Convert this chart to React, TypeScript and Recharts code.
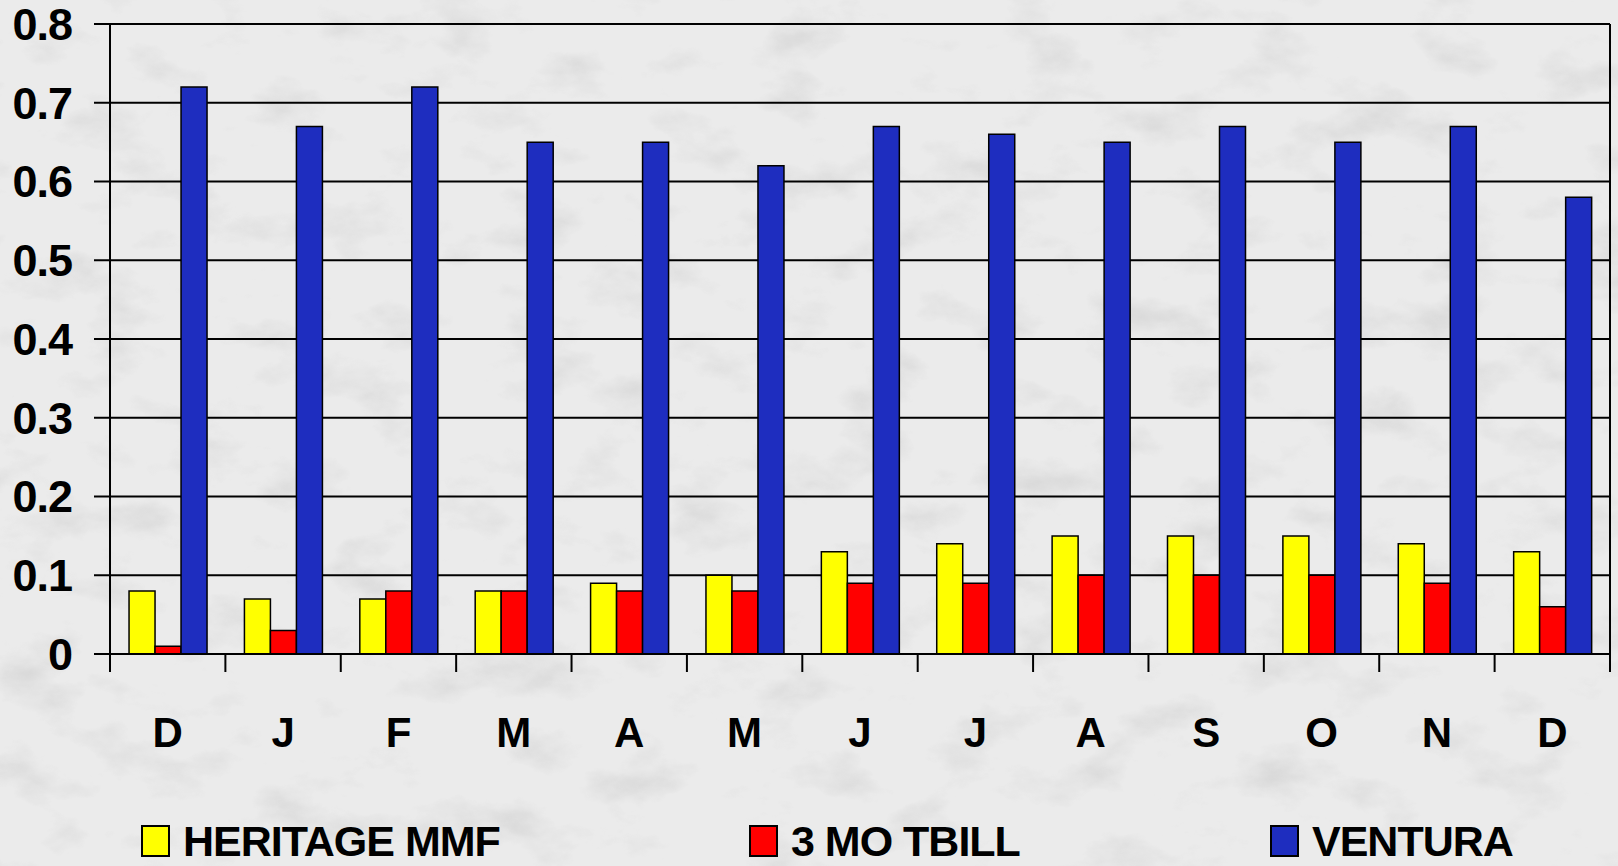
import React from 'react';
import {
  Bar,
  BarChart,
  CartesianGrid,
  Legend,
  XAxis,
  YAxis,
} from 'recharts';

const months = ['D', 'J', 'F', 'M', 'A', 'M', 'J', 'J', 'A', 'S', 'O', 'N', 'D'];
const heritage = [0.08, 0.07, 0.07, 0.08, 0.09, 0.1, 0.13, 0.14, 0.15, 0.15, 0.15, 0.14, 0.13];
const tbill = [0.01, 0.03, 0.08, 0.08, 0.08, 0.08, 0.09, 0.09, 0.1, 0.1, 0.1, 0.09, 0.06];
const ventura = [0.72, 0.67, 0.72, 0.65, 0.65, 0.62, 0.67, 0.66, 0.65, 0.67, 0.65, 0.67, 0.58];
const yTicks = [0, 0.1, 0.2, 0.3, 0.4, 0.5, 0.6, 0.7, 0.8];

const data = months.map((m, i) => ({
  month: m,
  heritage: heritage[i],
  tbill: tbill[i],
  ventura: ventura[i],
}));

const W = 1618;
const H = 866;
const FONT = '"Liberation Sans", Arial, sans-serif';
const BAND = 1500 / months.length;

const series = [
  { key: 'heritage', name: 'HERITAGE MMF', color: '#ffff00', left: 142 },
  { key: 'tbill', name: '3 MO TBILL', color: '#ff0000', left: 750 },
  { key: 'ventura', name: 'VENTURA', color: '#1e2dbf', left: 1271 },
];

const MonthTick = (props: any) => {
  const { x, y, payload, index } = props;
  return (
    <g>
      <line x1={x - BAND / 2} x2={x - BAND / 2} y1={y} y2={y + 18} stroke="#000" strokeWidth={2} />
      {index === months.length - 1 && (
        <line x1={x + BAND / 2} x2={x + BAND / 2} y1={y} y2={y + 18} stroke="#000" strokeWidth={2} />
      )}
      <text
        x={x}
        y={y + 93}
        textAnchor="middle"
        fontFamily={FONT}
        fontWeight="bold"
        fontSize={42}
        fill="#000"
      >
        {payload.value}
      </text>
    </g>
  );
};

// legend sits a few px higher than the original so the labels are not clipped
const LegendContent = () => (
  <svg width={W} height={50} style={{ display: 'block' }}>
    {series.map((s) => (
      <g key={s.key}>
        <rect x={s.left} y={10} width={27} height={30} fill={s.color} stroke="#000" strokeWidth={2} />
        <text
          x={s.left + 41}
          y={40}
          fontFamily={FONT}
          fontWeight="bold"
          fontSize={43}
          letterSpacing={-1}
          fill="#000"
        >
          {s.name}
        </text>
      </g>
    ))}
  </svg>
);

const Marble = () => (
  <svg width={W} height={H} style={{ position: 'absolute', left: 0, top: 0 }}>
    <defs>
      <filter id="marble" x="0" y="0" width="100%" height="100%">
        <feTurbulence type="fractalNoise" baseFrequency="0.012 0.02" numOctaves={5} seed={7} />
        <feColorMatrix
          type="matrix"
          values="0 0 0 0 0.45  0 0 0 0 0.45  0 0 0 0 0.45  -1.6 0 0 0 0.75"
        />
      </filter>
    </defs>
    <rect width={W} height={H} fill="#ebebeb" />
    <rect width={W} height={H} filter="url(#marble)" opacity={0.5} />
  </svg>
);

export default function App() {
  return (
    <div style={{ position: 'fixed', left: 0, top: 0, width: W, height: H, overflow: 'hidden' }}>
      <Marble />
      <div style={{ position: 'absolute', left: 0, top: 0 }}>
        <BarChart
          width={W}
          height={H}
          data={data}
          margin={{ top: 24, right: 8, left: 0, bottom: 112 }}
          barCategoryGap="16.5%"
          barGap={0}
        >
          <CartesianGrid
            stroke="#000"
            strokeWidth={2}
            verticalCoordinatesGenerator={({ offset }: any) => [offset.left + offset.width]}
          />
          <XAxis
            dataKey="month"
            height={100}
            interval={0}
            tickLine={false}
            tickSize={0}
            tickMargin={0}
            axisLine={{ stroke: '#000', strokeWidth: 2 }}
            tick={<MonthTick />}
          />
          <YAxis
            width={110}
            domain={[0, 0.8]}
            ticks={yTicks}
            interval={0}
            tickSize={16}
            tickMargin={22}
            tickFormatter={(v: number) => (v === 0 ? '0' : v.toFixed(1))}
            axisLine={{ stroke: '#000', strokeWidth: 2 }}
            tickLine={{ stroke: '#000', strokeWidth: 2 }}
            tick={{ fill: '#000', fontSize: 45, fontWeight: 'bold', fontFamily: FONT, letterSpacing: -1 }}
          />
          <Legend
            verticalAlign="middle"
            align="center"
            wrapperStyle={{ top: 816, left: 0, width: W }}
            content={<LegendContent />}
          />
          {series.map((s) => (
            <Bar
              key={s.key}
              dataKey={s.key}
              name={s.name}
              fill={s.color}
              stroke="#000"
              strokeWidth={1.5}
              isAnimationActive={false}
            />
          ))}
        </BarChart>
      </div>
    </div>
  );
}
